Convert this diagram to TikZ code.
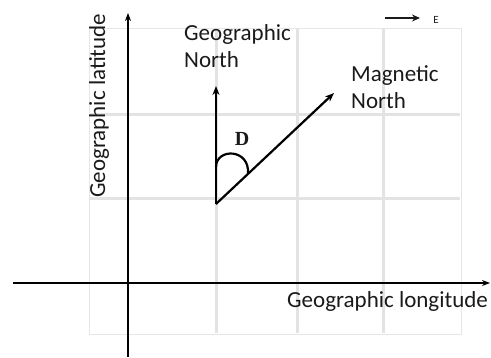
\documentclass[tikz,border=0pt]{standalone}
\usepackage{fontspec}
\setmainfont{Carlito}
\newfontfamily\serifb{Liberation Serif}
\usetikzlibrary{arrows.meta}
\definecolor{gridc}{HTML}{E3E3E3}
\definecolor{bordc}{HTML}{E6E6E6}
\definecolor{txt}{HTML}{1A1A1A}
\begin{document}
\begin{tikzpicture}[x=1pt,y=-1pt,
  gridline/.style={draw=gridc,line width=3pt},
  border/.style={draw=bordc,line width=0.8pt},
  axis/.style={draw=black,line width=1.5pt,-{Stealth[length=8pt,width=6pt]}},
  vec/.style={draw=black,line width=2.2pt,-{Stealth[length=9pt,width=7pt]}},
  lbl/.style={font=\fontsize{23}{27}\selectfont,text=txt,inner sep=0pt,align=left}]
\useasboundingbox (0,0) rectangle (491,358);
% grid
\draw[border] (89,28) rectangle (461,334);
\foreach \x in {216,297,383} \draw[gridline] (\x,29) -- (\x,333);
\foreach \y in {115,199} \draw[gridline] (90,\y) -- (460,\y);
% axes
\coordinate (xs) at (13,283);
\coordinate (xe) at (490,283);
\coordinate (ys) at (128,357);
\coordinate (ye) at (128,13);
\draw[axis] (xs) -- (xe);
\draw[axis] (ys) -- (ye);
% vectors
\coordinate (O) at (216,204);
\coordinate (GN) at (216,86);
\coordinate (MN) at (334,93);
\draw[vec] (O) -- (GN);
\draw[vec] (O) -- (MN);
\draw[line width=2.2pt] (216,167) .. controls (216,148) and (250,148) .. (248,174);
\node[font=\serifb\bfseries\fontsize{20}{20}\selectfont,text=txt] (D) at (242,139) {D};
% labels
\node[lbl,anchor=north west] (gnl) at (184,24) {Geographic\\North};
\node[lbl,anchor=north west] (mnl) at (351,65) {Magnetic\\North};
\node[lbl,anchor=base west] (lon) at (287,308) {Geographic longitude};
\node[lbl,rotate=90,anchor=base west] (lat) at (105,198) {Geographic latitude};
% E arrow
\coordinate (es) at (385,18);
\coordinate (ee) at (420,18);
\draw[draw=txt,line width=2.2pt,-{Stealth[length=8pt,width=7pt]}] (es) -- (ee);
\node[font=\fontsize{11}{11}\selectfont,text=txt,inner sep=0pt] (E) at (436,20) {E};
\end{tikzpicture}
\end{document}
